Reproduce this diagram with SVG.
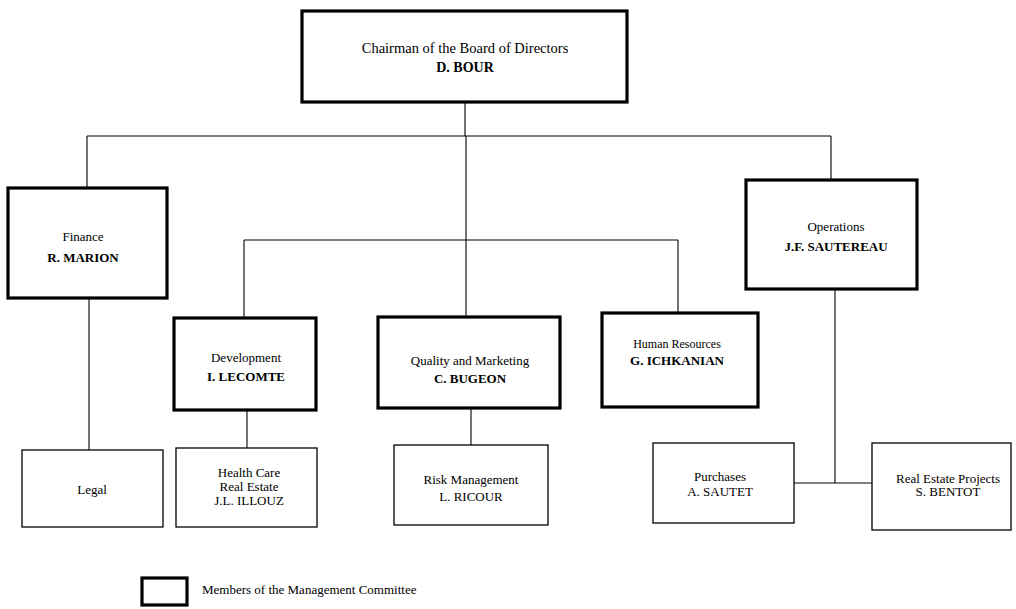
<svg xmlns="http://www.w3.org/2000/svg" width="1016" height="609" viewBox="0 0 1016 609">
<style>
  .thick { fill: #fff; stroke: #000; stroke-width: 3.2; }
  .thin { fill: #fff; stroke: #000; stroke-width: 1.3; }
  .conn { fill: none; stroke: #000; stroke-width: 1.1; }
  text { font-family: "Liberation Serif", "Times New Roman", serif; font-size: 13px; fill: #000; text-anchor: middle; }
  .b { font-weight: bold; }
</style>
<rect width="1016" height="609" fill="#fff"/>
<g id="connectors">
  <path class="conn" d="M465,102 V136"/>
  <path class="conn" d="M87,136 H831"/>
  <path class="conn" d="M87,136 V188"/>
  <path class="conn" d="M831,136 V180"/>
  <path class="conn" d="M466,136 V317"/>
  <path class="conn" d="M244,240 H678"/>
  <path class="conn" d="M244,240 V318"/>
  <path class="conn" d="M678,240 V313"/>
  <path class="conn" d="M89,298 V450"/>
  <path class="conn" d="M247,410 V448"/>
  <path class="conn" d="M471,408 V445"/>
  <path class="conn" d="M835,289 V483"/>
  <path class="conn" d="M794,483 H872"/>
</g>
<g id="chairman">
  <rect class="thick" x="302" y="11" width="325" height="91"/>
  <text x="465" y="53" style="font-size:14.5px">Chairman of the Board of Directors</text>
  <text x="465" y="72" class="b" style="font-size:14px">D. BOUR</text>
</g>
<g id="finance">
  <rect class="thick" x="8" y="188" width="159" height="110"/>
  <text x="83" y="241">Finance</text>
  <text x="83" y="262" class="b">R. MARION</text>
</g>
<g id="operations">
  <rect class="thick" x="746" y="180" width="171" height="109"/>
  <text x="836" y="231">Operations</text>
  <text x="836" y="251" class="b">J.F. SAUTEREAU</text>
</g>
<g id="development">
  <rect class="thick" x="174" y="318" width="142" height="92"/>
  <text x="246" y="362">Development</text>
  <text x="246" y="381" class="b">I. LECOMTE</text>
</g>
<g id="quality">
  <rect class="thick" x="378" y="317" width="182" height="91"/>
  <text x="470" y="365">Quality and Marketing</text>
  <text x="470" y="383" class="b">C. BUGEON</text>
</g>
<g id="hr">
  <rect class="thick" x="602" y="313" width="156" height="94"/>
  <text x="677" y="348" style="font-size:12px">Human Resources</text>
  <text x="677" y="365" class="b">G. ICHKANIAN</text>
</g>
<g id="legal">
  <rect class="thin" x="22" y="450" width="141" height="77"/>
  <text x="92" y="494">Legal</text>
</g>
<g id="healthcare">
  <rect class="thin" x="176" y="448" width="141" height="79"/>
  <text x="249" y="477">Health Care</text>
  <text x="249" y="491">Real Estate</text>
  <text x="249" y="505">J.L. ILLOUZ</text>
</g>
<g id="risk">
  <rect class="thin" x="394" y="445" width="154" height="80"/>
  <text x="471" y="484">Risk Management</text>
  <text x="471" y="501">L. RICOUR</text>
</g>
<g id="purchases">
  <rect class="thin" x="653" y="443" width="141" height="80"/>
  <text x="720" y="481">Purchases</text>
  <text x="720" y="496">A. SAUTET</text>
</g>
<g id="realestate">
  <rect class="thin" x="872" y="443" width="139" height="87"/>
  <text x="948" y="483">Real Estate Projects</text>
  <text x="948" y="496">S. BENTOT</text>
</g>
<g id="legend">
  <rect class="thick" x="142" y="578" width="45" height="27"/>
  <text x="202" y="594" style="text-anchor:start">Members of the Management Committee</text>
</g>
</svg>
